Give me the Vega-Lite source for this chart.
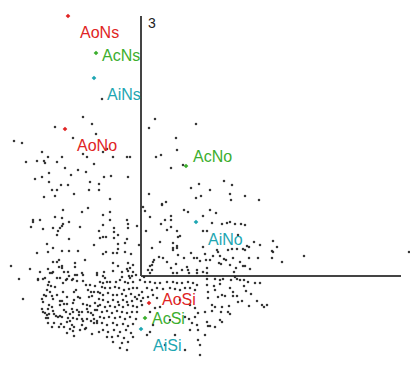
{
"$schema":"https://vega.github.io/schema/vega-lite/v6.json",
"width":410,"height":365,"padding":0,"autosize":{"type":"none"},
"background":"white",
"config":{"view":{"stroke":null}},
"datasets":{
"axes":[{"x":0,"y":0,"x2":0,"y2":260},{"x":0,"y":0,"x2":260,"y2":0}],
"labels":[
{"label":"AoNs","grp":"o","px":-73,"py":260,"lx":-61,"ly":243},
{"label":"AcNs","grp":"c","px":-45,"py":223,"lx":-39,"ly":220},
{"label":"AiNs","grp":"i","px":-47,"py":198,"lx":-34,"ly":181},
{"label":"AoNo","grp":"o","px":-76,"py":147,"lx":-64,"ly":130},
{"label":"AcNo","grp":"c","px":45,"py":110,"lx":52,"ly":119},
{"label":"AiNo","grp":"i","px":55,"py":54,"lx":67,"ly":36},
{"label":"AoSi","grp":"o","px":8,"py":-27,"lx":21,"ly":-24},
{"label":"AcSi","grp":"c","px":4,"py":-42,"lx":11,"ly":-43},
{"label":"AiSi","grp":"i","px":0,"py":-53,"lx":12,"ly":-70}],
"dots":[
{"x":-39,"y":177},{"x":-58,"y":159},{"x":-86,"y":149},{"x":-49,"y":152},{"x":-45,"y":142},{"x":-68,"y":138},{"x":-127,"y":135},{"x":-119,"y":133},{"x":-99,"y":124},{"x":-93,"y":119},{"x":-79,"y":119},{"x":-58,"y":122},{"x":-54,"y":119},{"x":-104,"y":115},{"x":-97,"y":115},{"x":-96,"y":113},{"x":-115,"y":114},{"x":-84,"y":114},{"x":-47,"y":112},{"x":-76,"y":108},{"x":-63,"y":106},{"x":-55,"y":104},{"x":-92,"y":103},{"x":-70,"y":101},{"x":-99,"y":99},{"x":-106,"y":97},{"x":-92,"y":94},{"x":-51,"y":94},{"x":-80,"y":91},{"x":-73,"y":91},{"x":-42,"y":92},{"x":-89,"y":86},{"x":-84,"y":86},{"x":-52,"y":86},{"x":-42,"y":86},{"x":-67,"y":82},{"x":-97,"y":79},{"x":-86,"y":80},
{"x":-38,"y":124},{"x":-34,"y":127},{"x":-28,"y":119},{"x":-14,"y":119},{"x":-11,"y":119},{"x":-37,"y":99},{"x":-30,"y":100},{"x":-13,"y":99},{"x":-31,"y":77},
{"x":14,"y":157},{"x":8,"y":148},{"x":35,"y":138},{"x":36,"y":126},{"x":55,"y":152},{"x":15,"y":119},{"x":20,"y":121},{"x":30,"y":108},{"x":42,"y":111},{"x":58,"y":92},{"x":50,"y":88},{"x":8,"y":82},{"x":55,"y":78},{"x":21,"y":72},{"x":25,"y":74},
{"x":83,"y":95},{"x":91,"y":91},{"x":60,"y":80},{"x":69,"y":86},{"x":89,"y":82},{"x":90,"y":76},{"x":104,"y":80},{"x":118,"y":76},{"x":62,"y":60},{"x":69,"y":66},{"x":75,"y":63},{"x":71,"y":53},{"x":81,"y":52},{"x":86,"y":53},{"x":89,"y":54},{"x":94,"y":52},{"x":100,"y":52},{"x":104,"y":51},{"x":62,"y":45},{"x":66,"y":45},{"x":97,"y":41},{"x":132,"y":35},{"x":113,"y":34},{"x":119,"y":31},{"x":106,"y":30},{"x":136,"y":29},{"x":62,"y":29},{"x":76,"y":26},{"x":77,"y":24},{"x":87,"y":26},{"x":91,"y":27},{"x":96,"y":27},{"x":102,"y":27},{"x":104,"y":26},{"x":131,"y":25},{"x":132,"y":24},{"x":108,"y":29},{"x":72,"y":20},{"x":79,"y":20},{"x":64,"y":22},{"x":59,"y":15},{"x":65,"y":16},{"x":69,"y":16},{"x":92,"y":18},{"x":83,"y":17},{"x":85,"y":16},{"x":99,"y":14},{"x":108,"y":18},{"x":117,"y":18},{"x":131,"y":18},{"x":141,"y":14},{"x":102,"y":10},{"x":104,"y":10},{"x":109,"y":7},{"x":66,"y":8},{"x":78,"y":13},{"x":80,"y":12},{"x":89,"y":11},{"x":95,"y":8},{"x":93,"y":4},{"x":62,"y":4},{"x":66,"y":3},{"x":94,"y":-1},{"x":268,"y":24},{"x":163,"y":20},
{"x":2,"y":69},{"x":4,"y":65},{"x":21,"y":71},{"x":43,"y":66},{"x":47,"y":64},{"x":9,"y":59},{"x":24,"y":56},{"x":30,"y":60},{"x":30,"y":56},{"x":20,"y":52},{"x":30,"y":49},{"x":26,"y":46},{"x":36,"y":45},{"x":39,"y":40},{"x":37,"y":39},{"x":5,"y":45},{"x":19,"y":34},{"x":32,"y":33},{"x":11,"y":28},{"x":32,"y":28},{"x":32,"y":26},{"x":36,"y":28},{"x":36,"y":30},{"x":50,"y":23},{"x":18,"y":19},{"x":22,"y":18},{"x":37,"y":21},{"x":43,"y":18},{"x":53,"y":18},{"x":56,"y":18},{"x":13,"y":16},{"x":12,"y":14},{"x":11,"y":11},{"x":9,"y":10},{"x":26,"y":14},{"x":35,"y":12},{"x":46,"y":9},{"x":30,"y":8},{"x":11,"y":6},{"x":7,"y":6},{"x":41,"y":6},{"x":47,"y":6},{"x":32,"y":3},{"x":36,"y":3},{"x":56,"y":6},{"x":48,"y":3},{"x":9,"y":3},{"x":56,"y":3},{"x":3,"y":-1},
{"x":-31,"y":64},{"x":-38,"y":61},{"x":-14,"y":56},{"x":-31,"y":56},{"x":-38,"y":51},{"x":-27,"y":48},{"x":-27,"y":44},{"x":-13,"y":52},{"x":-13,"y":48},{"x":-4,"y":50},{"x":-23,"y":41},{"x":-38,"y":39},{"x":-35,"y":39},{"x":-41,"y":38},{"x":-27,"y":38},{"x":-14,"y":37},{"x":-23,"y":32},{"x":-16,"y":33},{"x":-2,"y":31},{"x":-35,"y":24},{"x":-28,"y":23},{"x":-24,"y":23},{"x":-23,"y":27},{"x":-16,"y":24},{"x":-10,"y":22},{"x":-38,"y":22},{"x":-28,"y":13},{"x":-23,"y":10},{"x":-13,"y":13},{"x":-8,"y":11},{"x":-11,"y":8},{"x":-37,"y":4},{"x":-28,"y":5},{"x":-19,"y":4},{"x":-14,"y":7},{"x":-13,"y":5},{"x":-8,"y":4},{"x":-5,"y":1},{"x":-9,"y":0},{"x":-12,"y":0},{"x":-11,"y":-2},{"x":-19,"y":-1},{"x":-38,"y":0},{"x":-36,"y":-2},
{"x":-78,"y":66},{"x":-53,"y":68},{"x":-59,"y":64},{"x":-108,"y":56},{"x":-108,"y":54},{"x":-101,"y":56},{"x":-86,"y":59},{"x":-79,"y":58},{"x":-78,"y":52},{"x":-79,"y":50},{"x":-72,"y":54},{"x":-110,"y":49},{"x":-98,"y":47},{"x":-88,"y":48},{"x":-81,"y":48},{"x":-83,"y":45},{"x":-61,"y":49},{"x":-42,"y":45},{"x":-84,"y":41},{"x":-72,"y":37},{"x":-94,"y":32},{"x":-47,"y":31},{"x":-88,"y":28},{"x":-93,"y":24},{"x":-104,"y":23},{"x":-79,"y":25},{"x":-72,"y":25},{"x":-63,"y":25},{"x":-82,"y":16},{"x":-88,"y":14},{"x":-84,"y":14},{"x":-56,"y":16},{"x":-66,"y":13},{"x":-66,"y":9},{"x":-79,"y":10},{"x":-82,"y":9},{"x":-79,"y":8},{"x":-130,"y":10},{"x":-111,"y":7},{"x":-93,"y":7},{"x":-101,"y":4},{"x":-88,"y":4},{"x":-77,"y":4},{"x":-73,"y":4},{"x":-91,"y":3},{"x":-89,"y":3},{"x":-59,"y":3},{"x":-58,"y":1},{"x":-44,"y":3},{"x":-44,"y":1},{"x":-66,"y":1},{"x":-64,"y":1},{"x":-72,"y":0},{"x":-84,"y":-2},{"x":-81,"y":-2},{"x":-98,"y":-3},{"x":-96,"y":-2},{"x":-122,"y":-3},{"x":-103,"y":-3},{"x":-74,"y":-3},{"x":-68,"y":-3},
{"x":-118,"y":-23},{"x":-103,"y":-4},{"x":-92,"y":-6},{"x":-93,"y":-9},{"x":-90,"y":-10},{"x":-86,"y":-11},{"x":-78,"y":-7},{"x":-75,"y":-4},{"x":-69,"y":-4},{"x":-64,"y":-5},{"x":-58,"y":-5},{"x":-55,"y":-9},{"x":-51,"y":-9},{"x":-46,"y":-10},{"x":-65,"y":-14},{"x":-67,"y":-16},{"x":-53,"y":-14},{"x":-50,"y":-16},{"x":-47,"y":-16},{"x":-43,"y":-16},{"x":-94,"y":-14},{"x":-91,"y":-16},{"x":-78,"y":-16},{"x":-97,"y":-19},{"x":-95,"y":-20},{"x":-89,"y":-20},{"x":-84,"y":-19},{"x":-74,"y":-21},{"x":-63,"y":-21},{"x":-61,"y":-22},{"x":-52,"y":-21},{"x":-49,"y":-20},{"x":-42,"y":-23},{"x":-99,"y":-23},{"x":-98,"y":-26},{"x":-88,"y":-23},{"x":-81,"y":-25},{"x":-79,"y":-25},{"x":-67,"y":-24},{"x":-68,"y":-27},{"x":-77,"y":-28},{"x":-74,"y":-28},{"x":-58,"y":-28},{"x":-54,"y":-29},{"x":-51,"y":-30},{"x":-46,"y":-27},{"x":-43,"y":-30},{"x":-92,"y":-29},{"x":-89,"y":-31},{"x":-81,"y":-29},{"x":-99,"y":-33},{"x":-98,"y":-36},{"x":-93,"y":-33},{"x":-88,"y":-35},{"x":-77,"y":-34},{"x":-75,"y":-36},{"x":-69,"y":-33},{"x":-68,"y":-36},{"x":-64,"y":-34},{"x":-62,"y":-36},{"x":-59,"y":-36},{"x":-54,"y":-33},{"x":-53,"y":-36},{"x":-46,"y":-34},{"x":-44,"y":-34},{"x":-96,"y":-37},{"x":-94,"y":-39},{"x":-92,"y":-38},{"x":-87,"y":-38},{"x":-85,"y":-40},{"x":-71,"y":-38},{"x":-62,"y":-39},{"x":-50,"y":-37},{"x":-48,"y":-39},{"x":-95,"y":-42},{"x":-93,"y":-42},{"x":-83,"y":-41},{"x":-81,"y":-40},{"x":-79,"y":-41},{"x":-73,"y":-42},{"x":-68,"y":-42},{"x":-64,"y":-43},{"x":-59,"y":-43},{"x":-58,"y":-45},{"x":-54,"y":-43},{"x":-50,"y":-45},{"x":-47,"y":-43},{"x":-44,"y":-45},{"x":-93,"y":-47},{"x":-87,"y":-47},{"x":-74,"y":-46},{"x":-71,"y":-45},{"x":-69,"y":-49},{"x":-67,"y":-51},{"x":-59,"y":-49},{"x":-80,"y":-48},{"x":-77,"y":-51},{"x":-89,"y":-51},{"x":-82,"y":-51},{"x":-71,"y":-53},{"x":-68,"y":-55},{"x":-61,"y":-54},{"x":-56,"y":-53},{"x":-47,"y":-47},{"x":-44,"y":-47},{"x":-74,"y":-57},{"x":-49,"y":-58},{"x":-67,"y":-60},{"x":-55,"y":-52},{"x":-42,"y":-56},
{"x":-41,"y":-6},{"x":-38,"y":-7},{"x":-34,"y":-6},{"x":-31,"y":-6},{"x":-25,"y":-6},{"x":-21,"y":-4},{"x":-16,"y":-6},{"x":-13,"y":-7},{"x":-8,"y":-6},{"x":-1,"y":-4},{"x":4,"y":-6},{"x":9,"y":-6},{"x":14,"y":-7},{"x":19,"y":-7},{"x":26,"y":-6},{"x":32,"y":-6},{"x":36,"y":-7},{"x":41,"y":-7},{"x":47,"y":-6},{"x":52,"y":-7},{"x":56,"y":-9},{"x":-39,"y":-11},{"x":-36,"y":-12},{"x":-31,"y":-12},{"x":-26,"y":-11},{"x":-22,"y":-12},{"x":-17,"y":-14},{"x":-12,"y":-13},{"x":-8,"y":-12},{"x":-4,"y":-12},{"x":1,"y":-16},{"x":6,"y":-12},{"x":11,"y":-14},{"x":16,"y":-12},{"x":22,"y":-13},{"x":29,"y":-12},{"x":34,"y":-13},{"x":39,"y":-14},{"x":44,"y":-12},{"x":49,"y":-12},{"x":54,"y":-14},{"x":-41,"y":-17},{"x":-38,"y":-19},{"x":-33,"y":-17},{"x":-28,"y":-19},{"x":-24,"y":-19},{"x":-19,"y":-18},{"x":-15,"y":-20},{"x":-10,"y":-18},{"x":-6,"y":-21},{"x":-2,"y":-19},{"x":2,"y":-22},{"x":7,"y":-21},{"x":12,"y":-19},{"x":16,"y":-22},{"x":-38,"y":-24},{"x":-33,"y":-26},{"x":-28,"y":-24},{"x":-23,"y":-26},{"x":-18,"y":-24},{"x":-14,"y":-26},{"x":-9,"y":-25},{"x":-4,"y":-23},{"x":0,"y":-25},{"x":-41,"y":-29},{"x":-36,"y":-31},{"x":-31,"y":-30},{"x":-26,"y":-31},{"x":-22,"y":-29},{"x":-18,"y":-31},{"x":-13,"y":-29},{"x":-8,"y":-30},{"x":-4,"y":-31},{"x":1,"y":-29},{"x":14,"y":-32},{"x":19,"y":-31},{"x":-39,"y":-36},{"x":-34,"y":-35},{"x":-29,"y":-37},{"x":-24,"y":-35},{"x":-19,"y":-36},{"x":-14,"y":-37},{"x":-9,"y":-36},{"x":-4,"y":-36},{"x":9,"y":-36},{"x":49,"y":-29},{"x":54,"y":-32},{"x":57,"y":-37},{"x":-41,"y":-41},{"x":-37,"y":-42},{"x":-32,"y":-41},{"x":-26,"y":-42},{"x":-21,"y":-41},{"x":-16,"y":-43},{"x":-11,"y":-41},{"x":-5,"y":-43},{"x":44,"y":-41},{"x":48,"y":-43},{"x":54,"y":-41},{"x":-39,"y":-47},{"x":-34,"y":-49},{"x":-28,"y":-47},{"x":-24,"y":-49},{"x":-18,"y":-48},{"x":-13,"y":-50},{"x":-8,"y":-48},{"x":12,"y":-49},{"x":51,"y":-47},{"x":56,"y":-49},{"x":-38,"y":-54},{"x":-33,"y":-56},{"x":-27,"y":-54},{"x":-21,"y":-56},{"x":-15,"y":-54},{"x":-10,"y":-57},{"x":9,"y":-56},{"x":6,"y":-59},{"x":-34,"y":-61},{"x":-29,"y":-61},{"x":-23,"y":-60},{"x":-17,"y":-62},{"x":-8,"y":-61},{"x":-28,"y":-66},{"x":-19,"y":-67},{"x":-13,"y":-66},{"x":-21,"y":-72},{"x":-14,"y":-74},{"x":57,"y":-54},{"x":57,"y":-64},
{"x":66,"y":-3},{"x":74,"y":-3},{"x":79,"y":-4},{"x":82,"y":-3},{"x":90,"y":-4},{"x":96,"y":-3},{"x":99,"y":-4},{"x":103,"y":-4},{"x":107,"y":-6},{"x":114,"y":-7},{"x":119,"y":-7},{"x":66,"y":-9},{"x":73,"y":-10},{"x":79,"y":-8},{"x":89,"y":-12},{"x":92,"y":-16},{"x":103,"y":-10},{"x":105,"y":-15},{"x":110,"y":-18},{"x":67,"y":-16},{"x":74,"y":-14},{"x":81,"y":-19},{"x":84,"y":-20},{"x":92,"y":-20},{"x":96,"y":-20},{"x":67,"y":-22},{"x":77,"y":-21},{"x":97,"y":-26},{"x":101,"y":-25},{"x":116,"y":-25},{"x":108,"y":-30},{"x":121,"y":-29},{"x":123,"y":-31},{"x":126,"y":-29},{"x":71,"y":-29},{"x":74,"y":-31},{"x":81,"y":-31},{"x":88,"y":-30},{"x":64,"y":-36},{"x":71,"y":-35},{"x":80,"y":-36},{"x":87,"y":-36},{"x":89,"y":-38},{"x":66,"y":-46},{"x":67,"y":-50},{"x":69,"y":-50},{"x":74,"y":-51},{"x":79,"y":-44},{"x":81,"y":-46},{"x":64,"y":-59},
{"x":39,"y":-24},{"x":29,"y":-44},{"x":34,"y":-59},{"x":24,"y":-69},{"x":44,"y":-74},{"x":59,"y":-69},{"x":49,"y":-54},{"x":59,"y":-79}
]},
"encoding":{},
"layer":[
{"data":{"name":"axes"},"mark":{"type":"rule","color":"#444444","strokeWidth":2},
 "encoding":{"x":{"field":"x","type":"quantitative","scale":{"domain":[-141,269],"nice":false,"zero":false},"axis":null},
  "y":{"field":"y","type":"quantitative","scale":{"domain":[-89,276],"nice":false,"zero":false},"axis":null},
  "x2":{"field":"x2"},"y2":{"field":"y2"}}},
{"data":{"name":"dots"},"mark":{"type":"square","size":5,"filled":true,"color":"#222222","opacity":0.9},
 "encoding":{"x":{"field":"x","type":"quantitative"},"y":{"field":"y","type":"quantitative"}}},
{"data":{"name":"labels"},"mark":{"type":"point","shape":"diamond","size":22,"filled":true,"opacity":1},
 "encoding":{"x":{"field":"px","type":"quantitative"},"y":{"field":"py","type":"quantitative"},
  "color":{"field":"grp","type":"nominal","scale":{"domain":["o","c","i"],"range":["#e02424","#3cae2e","#1ea6b2"]},"legend":null}}},
{"data":{"name":"labels"},"mark":{"type":"text","align":"left","baseline":"middle","font":"Liberation Sans","fontSize":16},
 "encoding":{"x":{"field":"lx","type":"quantitative"},"y":{"field":"ly","type":"quantitative"},"text":{"field":"label"},
  "color":{"field":"grp","type":"nominal"}}},
{"data":{"values":[{"t":"3","x":11,"y":252}]},"mark":{"type":"text","align":"center","baseline":"middle","font":"Liberation Sans","fontSize":14,"color":"#222222"},
 "encoding":{"x":{"field":"x","type":"quantitative"},"y":{"field":"y","type":"quantitative"},"text":{"field":"t"}}}
]
}
